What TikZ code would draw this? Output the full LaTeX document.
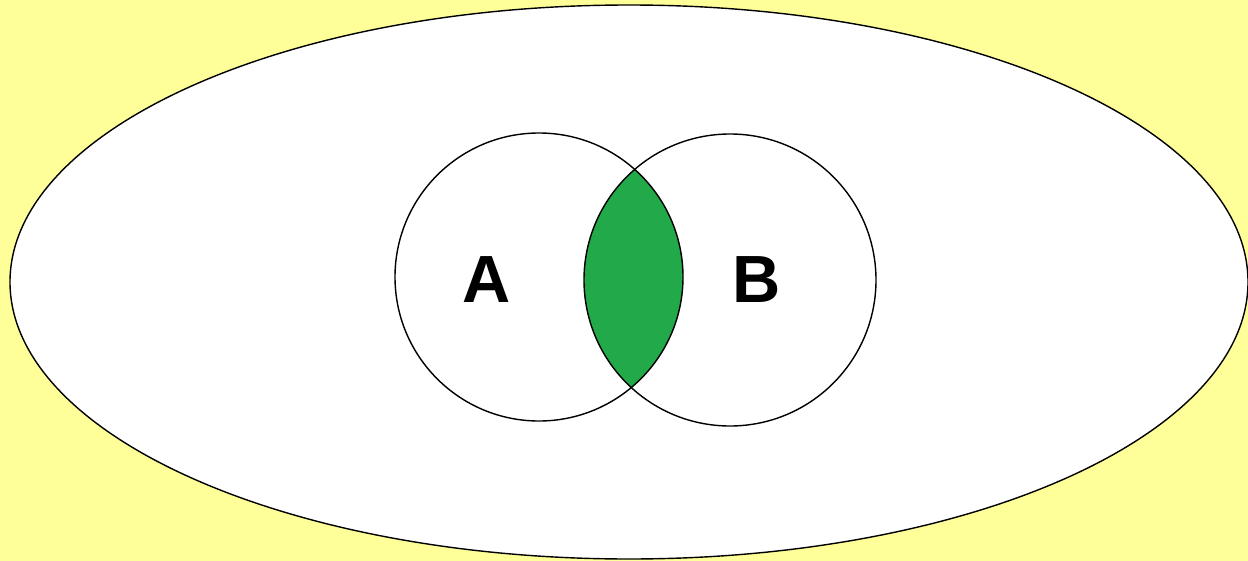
\documentclass[tikz,border=0pt]{standalone}
\usepackage{fontspec}
\setmainfont{Liberation Sans}
\usetikzlibrary{positioning}
\definecolor{vnYellow}{RGB}{255,255,153}
\definecolor{vnGreen}{RGB}{34,170,74}

\begin{document}
\begin{tikzpicture}[x=0.02cm, y=-0.02cm,
  setline/.style={draw=black, line width=0.8pt},
  setlabel/.style={font=\fontsize{38}{40}\selectfont\bfseries, inner sep=0pt}]
  % background and universe
  \fill[vnYellow] (0,0) rectangle (1248,561);
  \useasboundingbox (0,0) rectangle (1248,561);
  \draw[setline, fill=white] (629,282) ellipse [x radius=619, y radius=277];

  % intersection
  \begin{scope}
    \clip (539,277) circle [radius=144];
    \fill[vnGreen] (730,280) circle [radius=146];
  \end{scope}

  % the two sets
  \node[setline, circle, minimum size=288*0.02cm, inner sep=0pt] (setA) at (539,277) {};
  \node[setline, circle, minimum size=292*0.02cm, inner sep=0pt] (setB) at (730,280) {};

  \node[setlabel] (labA) at (487,280) {A};
  \node[setlabel] (labB) at (757,280) {B};
\end{tikzpicture}
\end{document}
